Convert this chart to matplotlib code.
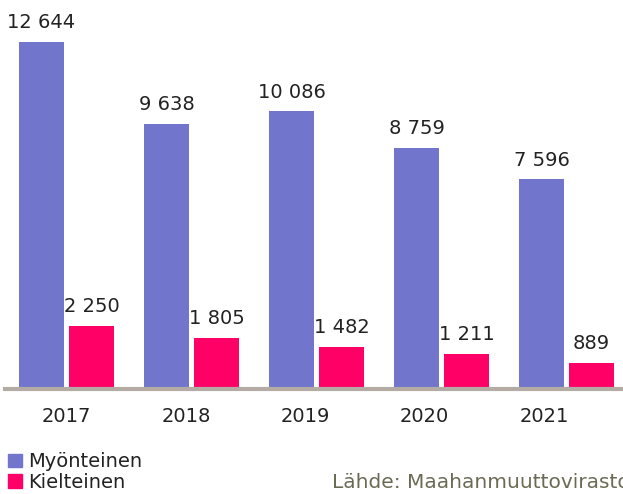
import numpy as np
import matplotlib
matplotlib.use("Agg")
import matplotlib.pyplot as plt
from matplotlib.patches import Patch

years = ["2017", "2018", "2019", "2020", "2021"]
myonteinen = [12644, 9638, 10086, 8759, 7596]
kielteinen = [2250, 1805, 1482, 1211, 889]
series_names = ["Myönteinen", "Kielteinen"]
source = "Lähde: Maahanmuuttovirasto"

BLUE = "#7175CC"
RED = "#FF0066"
TXT = "#222222"

W, H = 623, 494
fig = plt.figure(figsize=(W / 100, H / 100), dpi=100)
ax_bottom_px = 389
ax = fig.add_axes([5 / W, (H - ax_bottom_px) / H, 1 - 5 / W, ax_bottom_px / H])

x = np.arange(len(years))
bw = 0.36
off = 0.2
b1 = ax.bar(x - off, myonteinen, bw, color=BLUE, zorder=2)
b2 = ax.bar(x + off, kielteinen, bw, color=RED, zorder=2)

def fmt(v):
    return f"{v:,}".replace(",", " ")

for bars, vals in ((b1, myonteinen), (b2, kielteinen)):
    for r, v in zip(bars, vals):
        ax.annotate(fmt(v), (r.get_x() + r.get_width() / 2, v),
                    xytext=(0, 10), textcoords="offset points",
                    ha="center", va="baseline", fontsize=14, color=TXT)

ax.set_xlim((5 - 66.5) / 125, (623 - 66.5) / 125)
units_per_px = 36.6
ax.set_ylim(-2 * units_per_px, ax_bottom_px * units_per_px - 2 * units_per_px)

for s in ("top", "right", "left"):
    ax.spines[s].set_visible(False)
ax.spines["bottom"].set_color("#B4ABA5")
ax.spines["bottom"].set_linewidth(3)
ax.spines["bottom"].set_zorder(3)
ax.set_yticks([])
ax.set_xticks(x * 0.955)
ax.set_xticklabels(years, fontsize=14, color=TXT)
ax.tick_params(axis="x", length=0, pad=13)

handles = [Patch(color=BLUE), Patch(color=RED)]
fig.legend(handles, series_names, loc="lower left", bbox_to_anchor=(6 / W, 0),
           frameon=False, fontsize=14, handlelength=0.7, handleheight=0.7,
           handletextpad=0.35, labelspacing=0.1, borderaxespad=0.0, borderpad=0.1,
           labelcolor=TXT)

fig.text(332 / W, (H - 488) / H, source, fontsize=14.5, color="#6B6B55",
         ha="left", va="baseline")

fig.savefig("out.png", dpi=100)
